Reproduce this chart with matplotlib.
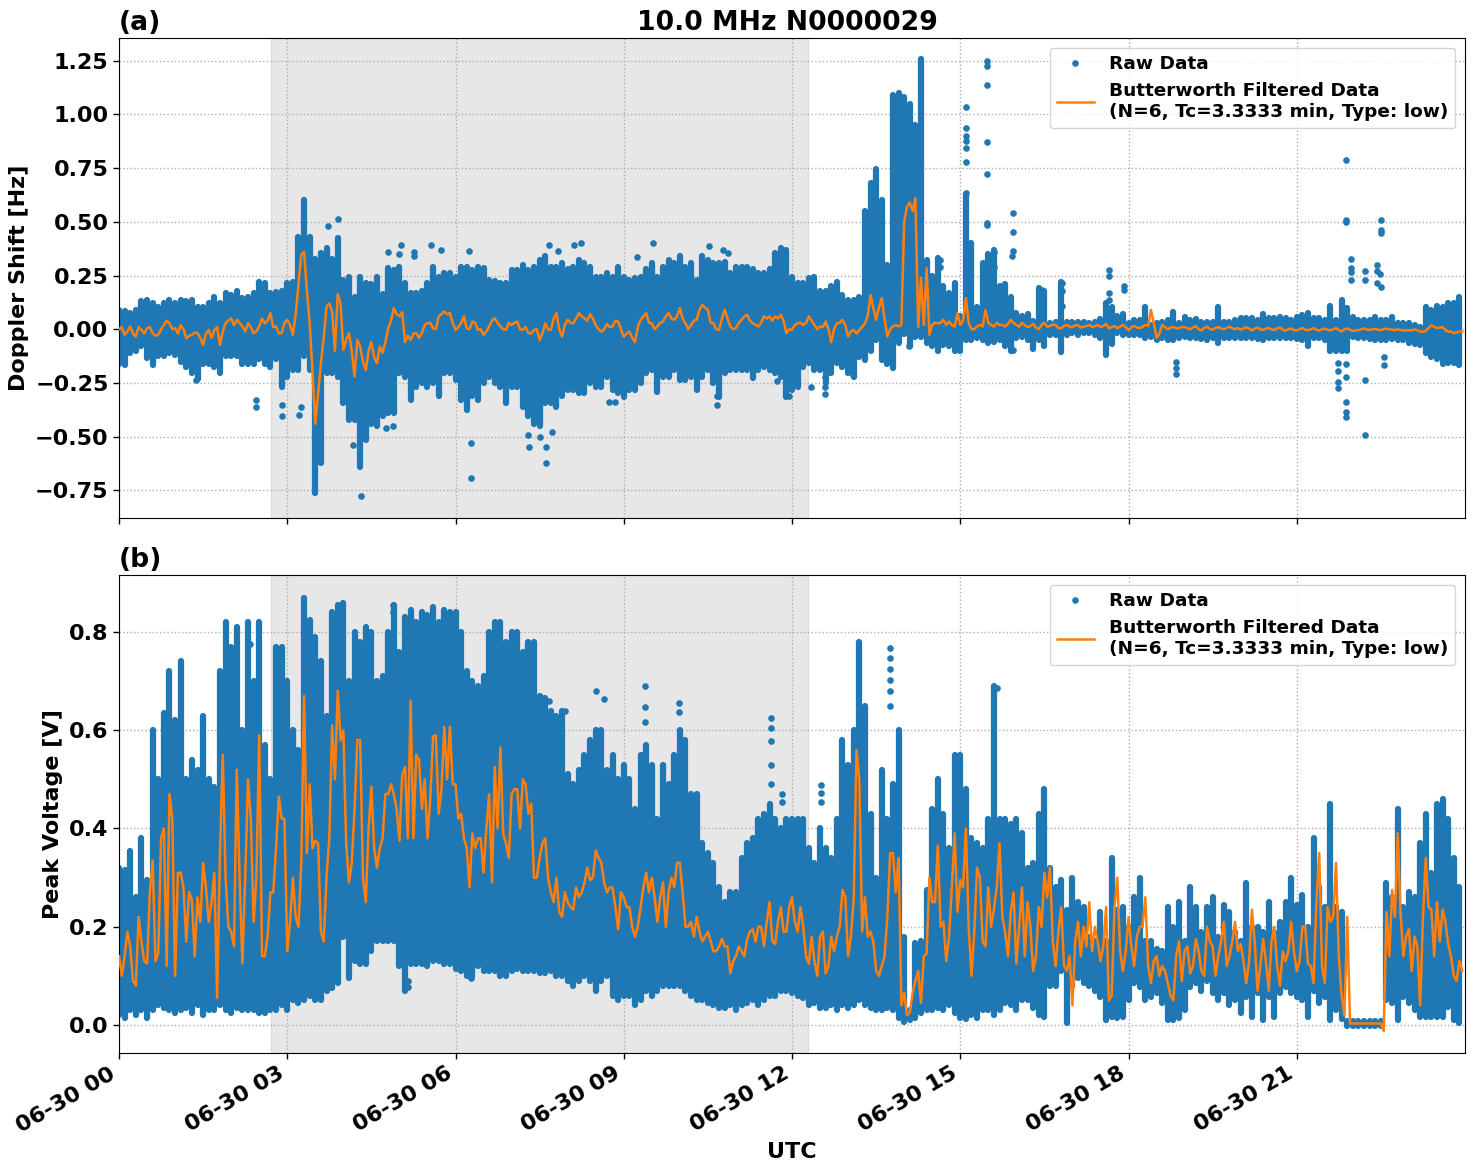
import numpy as np
import matplotlib
matplotlib.use("Agg")
import matplotlib.pyplot as plt
import matplotlib.dates as mdates

# Envelope and filtered values are listed every 0.1 h, one line per hour of the day.
# The *_half lists hold the filtered values at the half steps (0.05 h, 0.15 h, ...).
GRID_STEP_H = 0.1
DAY_START = np.datetime64("2023-06-30T00:00:00")
TERMINATOR_H = (2.71, 12.28)
TITLE = "10.0 MHz N0000029"
FILTER_LABEL = "Butterworth Filtered Data\n(N=6, Tc=3.3333 min, Type: low)"

doppler_upper = [
    .09,.085,.075,.09,.13,.135,.12,.105,.12,.135,
    .12,.135,.13,.135,.105,.105,.12,.15,.12,.17,
    .16,.18,.145,.15,.17,.22,.215,.17,.175,.18,
    .215,.22,.43,.60,.43,.325,.355,.38,.325,.425,
    .23,.245,.15,.245,.215,.21,.245,.165,.285,.275,
    .29,.215,.17,.17,.18,.215,.29,.245,.26,.26,
    .245,.29,.29,.275,.29,.285,.23,.225,.215,.215,
    .275,.275,.30,.275,.29,.32,.34,.29,.29,.31,
    .28,.29,.32,.31,.29,.245,.245,.26,.245,.29,
    .245,.23,.24,.245,.28,.31,.245,.29,.32,.31,
    .34,.29,.31,.23,.34,.32,.31,.31,.315,.26,
    .29,.29,.29,.28,.26,.26,.28,.355,.38,.37,
    .245,.215,.215,.24,.245,.18,.18,.20,.22,.16,
    .135,.137,.15,.55,.68,.745,.60,.30,1.09,1.10,
    1.08,1.05,.95,1.255,.32,.25,.33,.20,.17,.215,
    .06,.63,.40,.105,.31,.35,.37,.20,.21,.15,
    .075,.06,.07,.04,.19,.18,.03,.035,.22,.035,
    .036,.036,.036,.03,.036,.05,.12,.105,.06,.07,
    .03,.044,.044,.105,.02,.03,.036,.044,.08,.03,
    .055,.044,.047,.036,.036,.036,.105,.036,.036,.044,
    .051,.051,.051,.044,.07,.051,.051,.059,.051,.044,
    .059,.067,.075,.051,.051,.044,.11,.044,.137,.10,
    .059,.044,.044,.044,.059,.044,.044,.059,.028,.028,
    .028,.02,.012,.105,.09,.11,.105,.12,.12,.15,
]
doppler_lower = [
    -.16,-.165,-.11,-.10,-.08,-.135,-.165,-.125,-.125,-.11,
    -.12,-.15,-.175,-.205,-.23,-.16,-.16,-.175,-.205,-.125,
    -.125,-.125,-.16,-.16,-.16,-.14,-.16,-.175,-.14,-.27,
    -.22,-.19,-.19,-.125,-.19,-.76,-.62,-.205,-.205,-.22,
    -.345,-.42,-.42,-.64,-.515,-.44,-.45,-.405,-.39,-.39,
    -.205,-.22,-.33,-.27,-.25,-.27,-.25,-.31,-.205,-.205,
    -.235,-.33,-.375,-.31,-.33,-.25,-.22,-.25,-.27,-.345,
    -.27,-.27,-.36,-.405,-.44,-.45,-.345,-.345,-.36,-.31,
    -.282,-.282,-.298,-.298,-.25,-.267,-.267,-.22,-.282,-.298,
    -.313,-.282,-.282,-.25,-.205,-.189,-.29,-.22,-.22,-.189,
    -.236,-.236,-.22,-.282,-.22,-.189,-.25,-.313,-.205,-.189,
    -.189,-.189,-.189,-.228,-.189,-.174,-.189,-.205,-.22,-.313,
    -.282,-.267,-.174,-.158,-.189,-.19,-.25,-.205,-.158,-.174,
    -.205,-.22,-.127,-.145,-.10,-.05,-.145,-.16,-.18,-.065,
    -.02,-.08,-.035,-.035,-.065,-.08,-.10,-.073,-.08,-.10,
    -.10,-.05,-.05,-.042,-.05,-.065,-.057,-.05,-.08,-.10,
    -.042,-.034,-.05,-.09,-.05,-.08,-.026,-.026,-.105,-.026,
    -.018,-.026,-.018,-.018,-.026,-.042,-.12,-.07,-.018,-.026,
    -.026,-.026,-.026,-.042,-.034,-.05,-.042,-.05,-.05,-.042,
    -.034,-.042,-.042,-.045,-.05,-.042,-.065,-.042,-.042,-.042,
    -.04,-.042,-.042,-.045,-.05,-.042,-.042,-.04,-.042,-.042,
    -.045,-.05,-.08,-.042,-.042,-.05,-.10,-.10,-.10,-.10,
    -.034,-.042,-.042,-.045,-.05,-.05,-.05,-.045,-.05,-.05,
    -.065,-.07,-.075,-.11,-.127,-.14,-.16,-.155,-.155,-.165,
]
doppler_filtered = [
    .0,-.026,.013,-.034,-.003,.005,-.018,-.026,.02,.028,
    .005,.02,-.042,-.026,-.018,-.073,-.003,-.003,-.073,.028,
    .051,.044,.013,.028,-.018,.013,.028,.075,.013,-.018,
    .044,-.026,.207,.36,.028,-.44,-.158,.106,.083,.163,
    -.096,-.018,-.22,-.08,-.19,-.06,-.158,-.11,.005,.098,
    .06,-.06,-.05,-.018,-.018,.028,.005,.06,.083,.075,
    -.003,.028,.005,.036,-.003,-.026,.013,.051,.013,-.003,
    .02,.036,-.003,-.018,-.003,-.05,.028,-.003,.075,-.034,
    .044,.028,.075,.051,.07,.02,-.011,.025,.013,.036,
    -.034,-.011,-.06,.044,.075,.028,.013,.036,.075,.044,
    .098,.028,.02,.044,.114,.09,.028,-.003,.09,.013,
    .005,.044,.067,.028,.013,.06,.06,.06,.067,-.018,
    -.003,.028,.02,.06,.02,.013,.036,-.06,.028,.044,
    -.034,-.003,-.003,.028,.16,.044,.145,-.034,.013,.013,
    .50,.59,.61,.24,.285,.02,.028,.044,.036,.013,
    .02,.145,.0,.013,.013,.03,.013,.02,.013,.044,
    .02,.03,.01,.025,.0,.03,.015,.02,.005,.02,
    .01,.018,.012,.02,.015,.01,.025,.01,.005,.02,
    -.005,.015,.005,.02,.09,-.04,.02,.0,.01,.005,
    .01,.0,.015,-.005,.012,-.003,.01,.0,.012,.0,
    -.002,.01,-.005,.008,-.003,.006,-.004,.008,-.006,.004,
    -.005,.006,-.004,.005,-.006,.003,-.005,.006,-.01,.004,
    -.008,-.004,.004,-.003,.002,-.004,.003,-.002,.0,-.006,
    -.004,.0,-.01,-.008,.018,.005,.01,-.012,-.018,-.01,
]
doppler_filtered_half = [
    .01,-.01,-.02,.01,-.02,.01,-.03,.0,.04,.0,
    -.02,.0,-.03,-.015,-.04,-.02,-.04,.01,-.01,.04,
    .02,.03,-.01,.01,-.01,.05,.04,.01,-.02,.03,
    .02,.07,.35,.18,-.20,-.30,-.04,.12,-.10,.12,
    -.05,-.10,-.05,-.15,-.10,-.13,-.08,-.06,.04,.07,
    .08,-.03,-.02,-.04,.02,.03,.0,.07,.07,.03,
    .01,.06,.0,.03,.0,-.01,.04,.03,.0,.03,
    .03,.0,.01,-.02,.0,-.02,.0,.05,.0,.02,
    .03,.05,.06,.04,.05,.0,.0,.01,.04,.0,
    -.02,-.04,.01,.06,.03,.0,.03,.06,.05,.06,
    .05,.0,.04,.09,.10,.03,.0,.05,.05,.0,
    .03,.06,.04,.02,.03,.05,.04,.05,.04,.0,
    .02,.03,.03,.04,.0,.01,.0,.0,.03,.02,
    -.01,-.02,.01,.06,.10,.10,.05,.0,.02,.02,
    .57,.55,.012,.02,-.025,.03,.03,.02,.02,.075,
    .04,.03,.0,.02,.09,.02,.03,.02,.025,.03,
    .012,.02,.015,.008,.02,.012,.022,.005,.015,.012,
    .02,.008,.015,.01,.02,.015,.005,.015,.012,.01,
    .01,.008,.012,.015,.03,-.02,.01,.008,.005,.01,
    .005,.008,.0,.006,.002,.006,.004,.006,.004,.006,
    .004,.002,.004,.0,.003,.0,.004,-.002,.0,-.004,
    .0,-.002,.0,-.002,.0,-.002,.0,-.004,.0,-.002,
    -.006,.0,-.002,.0,-.002,.0,.0,-.004,-.003,-.005,
    -.006,-.005,-.012,.006,.012,.008,-.003,-.01,-.015,-.012,
]

doppler_spot_hours = [
    3.72,3.90,6.28,6.28,4.32,7.61,7.31,7.50,7.72,7.61,7.30,2.44,2.44,2.91,2.91,3.21,3.25,
    4.79,5.02,4.99,5.26,5.26,5.57,5.75,6.24,7.67,7.82,4.88,4.76,4.18,1.38,
    8.24,8.11,9.53,10.52,10.77,10.85,9.24,8.74,8.85,10.67,10.67,12.33,12.58,12.58,12.58,
    11.74,11.94,15.11,15.11,15.11,15.10,15.10,15.11,15.10,15.48,15.48,15.48,15.48,15.48,
    15.48,15.48,15.94,15.94,15.94,15.93,21.87,21.87,21.87,22.51,22.51,22.51,21.96,21.96,
    21.96,21.96,22.22,22.22,22.43,22.43,22.43,22.48,22.51,21.87,21.87,21.87,21.74,21.74,
    21.74,21.74,21.87,21.87,22.22,22.22,22.56,22.56,18.84,18.84,18.84,17.66,17.66,17.66,
    17.66,17.92,17.92,16.82,16.82,16.82,13.09,15.94,14.63,14.63,14.56,14.56,15.61,15.61,
    15.41,16.45,14.08,
]
doppler_spot_values = [
    .48,.515,-.69,-.527,-.777,-.62,-.546,-.50,-.48,-.55,-.49,-.33,-.36,-.405,-.35,-.40,-.36,
    .36,.39,.35,.36,.34,.39,.37,.364,.39,.364,-.45,-.46,-.54,-.235,
    .40,.39,.40,.387,.37,.354,.335,-.337,-.34,-.35,-.31,-.27,-.30,-.267,-.22,
    -.24,-.31,1.034,.937,.898,.875,.843,.778,.634,1.247,1.227,1.137,.871,.722,
    .494,.486,.54,.452,.362,.343,.787,.509,.497,.508,.46,.45,.326,.284,
    .266,.23,.27,.23,.298,.27,.214,.256,.196,-.34,-.383,-.407,-.155,-.196,
    -.244,-.275,-.163,-.22,-.236,-.49,-.127,-.166,-.15,-.18,-.21,.277,.246,.168,
    .137,.199,.183,.214,.176,.106,-.213,-.096,.323,.289,.245,.145,.36,.29,
    .30,.183,-.08,
]

peak_upper = [
    .32,.315,.355,.26,.38,.295,.60,.50,.635,.72,
    .62,.74,.50,.54,.52,.63,.50,.485,.72,.82,
    .77,.81,.60,.82,.70,.82,.57,.50,.77,.77,
    .70,.60,.56,.87,.825,.79,.74,.63,.84,.855,
    .858,.70,.80,.78,.81,.80,.70,.71,.80,.855,
    .76,.83,.845,.82,.84,.835,.85,.82,.845,.84,
    .84,.80,.72,.70,.69,.71,.80,.82,.82,.78,
    .80,.80,.76,.78,.78,.67,.665,.64,.63,.64,
    .51,.49,.52,.55,.58,.60,.60,.52,.55,.50,
    .53,.50,.44,.55,.57,.53,.42,.53,.49,.55,
    .60,.58,.47,.47,.37,.35,.33,.28,.25,.27,
    .27,.34,.37,.38,.42,.43,.45,.42,.40,.42,
    .42,.42,.42,.36,.33,.40,.36,.34,.42,.58,
    .53,.60,.78,.65,.43,.30,.52,.42,.49,.60,
    .18,.03,.166,.17,.275,.44,.50,.43,.36,.55,
    .55,.48,.38,.37,.36,.42,.69,.42,.42,.41,
    .42,.39,.32,.33,.43,.48,.32,.28,.295,.235,
    .30,.25,.24,.18,.17,.23,.17,.34,.235,.24,
    .20,.26,.30,.17,.17,.155,.15,.24,.20,.25,
    .17,.28,.24,.19,.24,.26,.18,.245,.23,.19,
    .17,.29,.20,.20,.19,.25,.19,.21,.25,.30,
    .245,.265,.20,.38,.28,.24,.45,.24,.23,.008,
    .008,.008,.008,.008,.008,.008,.29,.26,.44,.24,
    .27,.26,.37,.43,.31,.45,.46,.42,.34,.28,
]
peak_lower = [
    .02,.015,.03,.02,.03,.015,.03,.04,.035,.03,
    .025,.03,.035,.025,.04,.02,.03,.03,.04,.03,
    .025,.035,.03,.03,.03,.025,.025,.03,.03,.04,
    .03,.05,.045,.05,.06,.05,.05,.07,.075,.085,
    .18,.095,.13,.125,.125,.15,.17,.17,.17,.17,
    .12,.07,.125,.125,.125,.12,.13,.13,.125,.125,
    .115,.11,.10,.10,.12,.11,.11,.11,.10,.10,
    .11,.115,.11,.11,.11,.105,.105,.11,.10,.10,
    .09,.08,.09,.10,.09,.07,.09,.10,.06,.05,
    .06,.06,.04,.05,.07,.06,.07,.08,.08,.08,
    .08,.07,.06,.05,.05,.045,.04,.035,.035,.04,
    .03,.04,.045,.05,.04,.05,.06,.06,.07,.07,
    .065,.06,.055,.04,.045,.035,.035,.04,.03,.04,
    .035,.04,.05,.04,.035,.03,.03,.035,.03,.015,
    .007,.01,.015,.025,.03,.03,.035,.03,.04,.025,
    .015,.012,.02,.015,.03,.03,.02,.03,.045,.04,
    .03,.05,.05,.035,.02,.017,.08,.08,.11,.004,
    .08,.095,.085,.08,.07,.058,.01,.017,.014,.017,
    .05,.085,.078,.05,.058,.065,.044,.01,.01,.014,
    .03,.078,.085,.07,.09,.065,.05,.065,.04,.05,
    .025,.058,.017,.065,.01,.058,.017,.065,.078,.065,
    .058,.05,.017,.07,.044,.058,.01,.03,.013,-.002,
    -.002,-.002,-.002,-.002,-.002,-.002,.05,.044,.01,.058,
    .044,.03,.017,.017,.017,.017,.017,.037,.01,.004,
]
peak_filtered = [
    .14,.14,.16,.08,.17,.125,.335,.146,.40,.47,
    .10,.31,.17,.255,.26,.33,.21,.31,.35,.30,
    .19,.52,.125,.50,.21,.59,.14,.27,.36,.42,
    .15,.30,.20,.67,.49,.375,.19,.30,.61,.68,
    .60,.29,.44,.58,.25,.485,.32,.38,.47,.47,
    .375,.525,.66,.55,.44,.38,.587,.43,.607,.607,
    .49,.43,.36,.39,.38,.31,.47,.525,.565,.37,
    .47,.48,.50,.43,.30,.34,.38,.27,.30,.22,
    .25,.235,.26,.29,.295,.355,.33,.27,.28,.195,
    .26,.24,.18,.24,.31,.30,.21,.29,.27,.28,
    .33,.20,.21,.22,.17,.19,.15,.16,.16,.105,
    .14,.15,.175,.195,.20,.16,.25,.165,.24,.19,
    .26,.19,.20,.125,.13,.18,.105,.18,.18,.275,
    .14,.255,.50,.26,.19,.11,.12,.22,.35,.34,
    .065,.025,.09,.045,.145,.25,.365,.21,.18,.39,
    .295,.40,.10,.32,.17,.28,.235,.37,.19,.23,
    .125,.28,.25,.11,.24,.31,.32,.12,.24,.11,
    .04,.21,.20,.25,.20,.13,.24,.06,.30,.11,
    .22,.12,.20,.26,.085,.14,.12,.085,.05,.17,
    .15,.105,.175,.11,.20,.16,.14,.21,.14,.21,
    .165,.085,.235,.07,.175,.07,.20,.08,.13,.21,
    .11,.20,.125,.085,.35,.085,.21,.33,.06,.22,
    .003,.003,.003,.003,.003,.003,.23,.275,.39,.14,
    .195,.18,.04,.34,.235,.25,.235,.165,.10,.13,
]
peak_filtered_half = [
    .10,.19,.09,.22,.13,.27,.13,.38,.12,.42,
    .31,.28,.27,.14,.21,.28,.25,.055,.55,.20,
    .16,.30,.30,.42,.30,.14,.18,.27,.465,.42,
    .21,.22,.33,.35,.36,.37,.17,.38,.50,.58,
    .37,.33,.58,.30,.40,.36,.36,.47,.49,.44,
    .51,.38,.38,.54,.50,.46,.59,.48,.50,.49,
    .42,.38,.28,.36,.38,.40,.29,.40,.39,.34,
    .48,.40,.49,.45,.30,.37,.30,.25,.23,.27,
    .24,.28,.27,.32,.30,.34,.29,.28,.24,.27,
    .24,.20,.20,.28,.27,.26,.26,.20,.30,.33,
    .27,.20,.18,.19,.18,.17,.15,.175,.16,.13,
    .16,.14,.19,.17,.20,.21,.17,.21,.19,.24,
    .21,.24,.14,.18,.10,.19,.12,.15,.20,.26,
    .18,.56,.19,.18,.17,.10,.14,.35,.27,.04,
    .02,.065,.11,.14,.30,.25,.20,.13,.28,.23,
    .28,.20,.19,.30,.16,.20,.28,.22,.14,.27,
    .20,.14,.20,.14,.20,.26,.17,.19,.12,.14,
    .17,.14,.16,.15,.17,.16,.05,.24,.15,.15,
    .16,.18,.20,.12,.13,.10,.11,.06,.14,.09,
    .16,.12,.15,.10,.17,.10,.17,.12,.17,.15,
    .13,.13,.17,.12,.13,.17,.12,.15,.15,.15,
    .13,.20,.12,.25,.12,.24,.22,.14,.02,.003,
    .003,.003,.003,.003,.003,-.012,.14,.22,.23,.18,
    .11,.16,.22,.24,.14,.17,.21,.14,.09,.11,
]

peak_spot_hours = [
    8.51,8.64,9.37,9.37,9.37,9.99,9.99,11.63,11.63,11.63,11.63,11.63,11.83,11.83,
    12.51,12.51,12.51,13.75,13.75,13.75,13.75,13.75,13.75,15.65,5.16,5.16,6.28,6.28,
    4.88,4.88,2.34,7.53,7.67,7.96,5.35,
]
peak_spot_values = [
    .68,.663,.69,.648,.616,.655,.637,.625,.604,.578,.529,.49,.47,.454,
    .488,.472,.454,.767,.748,.725,.703,.679,.649,.686,.078,.09,.095,.11,
    .855,.84,.775,.665,.66,.64,.795,
]


def to_time(hours):
    millis = np.round(np.asarray(hours, dtype=float) * 3.6e6).astype("timedelta64[ms]")
    return DAY_START + millis


def filtered_line(values, half_values):
    # Interleave the whole-step and half-step samples in time order.
    whole_h = np.arange(len(values)) * GRID_STEP_H
    half_h = whole_h[:len(half_values)] + GRID_STEP_H / 2
    hours = np.concatenate([whole_h, half_h])
    order = np.argsort(hours)
    return hours[order], np.concatenate([values, half_values])[order]


def draw_panel(ax, upper, lower, spot_h, spot_v, filtered, filtered_half):
    grid = np.arange(len(upper)) * GRID_STEP_H
    times = to_time(grid)
    ax.axvspan(to_time(TERMINATOR_H[0]), to_time(TERMINATOR_H[1]),
               color="0.5", alpha=0.19, lw=1, zorder=0.5)
    # Continuous columns between the lower and upper envelopes of the raw samples.
    ax.vlines(times, lower, upper, color="C0", lw=4.5, capstyle="round", zorder=2)
    ax.plot(to_time(spot_h), spot_v, ".", color="C0", ms=7.5, label="Raw Data", zorder=2)
    fh, fv = filtered_line(filtered, filtered_half)
    ax.plot(to_time(fh), fv, color="C1", lw=1.8, label=FILTER_LABEL, zorder=3)
    ax.grid(True, color="0.68", ls=":", lw=1.0)
    ax.set_axisbelow(True)
    ax.set_xlim(to_time(0), to_time(23.9997))
    ax.xaxis.set_major_locator(mdates.HourLocator(byhour=range(0, 24, 3)))
    ax.xaxis.set_major_formatter(mdates.DateFormatter("%m-%d %H"))
    ax.tick_params(labelsize=16, width=1, length=4)
    ax.legend(loc="upper right", prop={"weight": "bold", "size": 13.3},
              borderaxespad=0.52, labelspacing=0.5)


plt.rcParams["font.weight"] = "bold"
plt.rcParams["axes.labelweight"] = "bold"
plt.rcParams["axes.titleweight"] = "bold"

W, H = 1475, 1172
fig = plt.figure(figsize=(W / 100, H / 100), dpi=100)
ax_a = fig.add_axes([119 / W, 1 - 518 / H, 1346 / W, 480 / H])
ax_b = fig.add_axes([119 / W, 1 - 1053 / H, 1346 / W, 478 / H])

draw_panel(ax_a, doppler_upper, doppler_lower, doppler_spot_hours, doppler_spot_values,
           doppler_filtered, doppler_filtered_half)
draw_panel(ax_b, peak_upper, peak_lower, peak_spot_hours, peak_spot_values,
           peak_filtered, peak_filtered_half)

ax_a.set_ylim(-0.878, 1.355)
ax_b.set_ylim(-0.057, 0.916)
ax_a.set_yticks(np.arange(-0.75, 1.26, 0.25))
ax_a.set_ylabel("Doppler Shift [Hz]", fontsize=16)
ax_b.set_ylabel("Peak Voltage [V]", fontsize=16)
ax_b.set_xlabel("UTC", fontsize=16)
ax_a.tick_params(labelbottom=False)
plt.setp(ax_b.get_xticklabels(), rotation=30, ha="right")

ax_a.set_title(TITLE, fontsize=19.2, pad=6, x=0.4963)
ax_a.set_title("(a)", loc="left", fontsize=19.2, pad=6)
ax_b.set_title("(b)", loc="left", fontsize=19.2, pad=6)

fig.savefig("out.png", dpi=100)
